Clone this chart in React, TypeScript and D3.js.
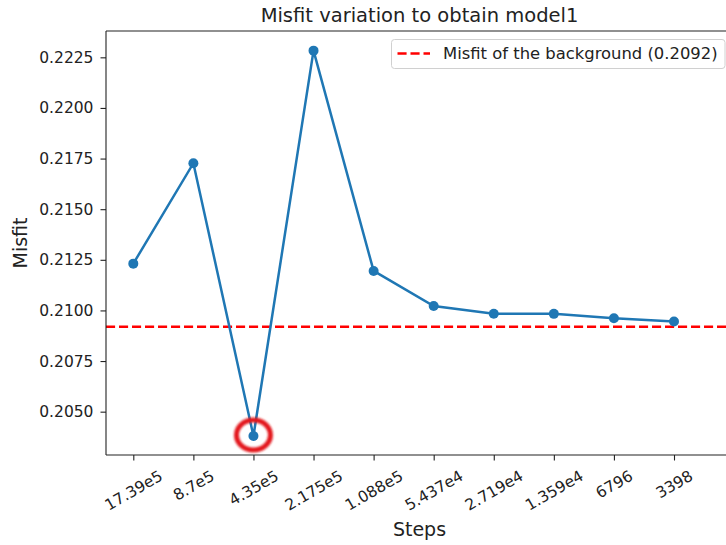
import React, { useRef, useEffect } from "react";
import { select, scalePoint, scaleLinear, axisBottom, axisLeft, line, format } from "d3";

const steps = [
  "17.39e5",
  "8.7e5",
  "4.35e5",
  "2.175e5",
  "1.088e5",
  "5.437e4",
  "2.719e4",
  "1.359e4",
  "6796",
  "3398",
];
const misfit = [
  0.21231, 0.21727, 0.2038, 0.22283, 0.21195, 0.21022, 0.20984, 0.20983,
  0.20961, 0.20945,
];
const background = 0.2092;
const yTicks = [0.205, 0.2075, 0.21, 0.2125, 0.215, 0.2175, 0.22, 0.2225];

const width = 726;
const height = 545;
const left = 106;
const right = 733;
const top = 31;
const bottom = 455;
const font = "'DejaVu Sans', sans-serif";
const blue = "#1f77b4";

const App: React.FC = () => {
  const gx = useRef<SVGGElement>(null);
  const gy = useRef<SVGGElement>(null);

  const x = scalePoint<string>().domain(steps).range([133.3, 674]);
  const y = scaleLinear().domain([0.20286, 0.2238]).range([bottom, top]);

  const path = line<number>()
    .x((_, i) => x(steps[i]) as number)
    .y((d) => y(d));

  const minIdx = misfit.indexOf(Math.min(...misfit));

  useEffect(() => {
    if (gy.current) {
      const g = select(gy.current);
      g.call(
        axisLeft(y)
          .tickValues(yTicks)
          .tickFormat(format(".4f"))
          .tickSize(5.5)
          .tickPadding(7)
      );
      g.select(".domain").remove();
      g.selectAll("line").attr("stroke", "#222").attr("stroke-width", 1.1);
      g.selectAll("text")
        .attr("font-family", font)
        .attr("font-size", 15.5)
        .attr("fill", "#222");
    }
    if (gx.current) {
      const g = select(gx.current);
      g.call(axisBottom(x).tickSize(5.5).tickPadding(0));
      g.select(".domain").remove();
      g.selectAll("line").attr("stroke", "#222").attr("stroke-width", 1.1);
      // matplotlib-style rotated labels: bbox centred on the tick
      g.selectAll<SVGTextElement, string>("text").each(function () {
        const t = select(this)
          .attr("font-family", font)
          .attr("font-size", 15.5)
          .attr("fill", "#222")
          .attr("text-anchor", "middle")
          .attr("dy", "0.32em");
        const w = this.getComputedTextLength();
        const h = 18;
        const cy = 12 + (w * 0.5 + h * 0.866) / 2;
        t.attr("y", cy).attr("transform", `rotate(-30, 0, ${cy})`);
      });
    }
  }, []);

  const cx = x(steps[minIdx]) as number;
  const cyMin = y(misfit[minIdx]);

  return (
    <svg
      width={width}
      height={height}
      style={{ position: "absolute", left: 0, top: 0, background: "#fff" }}
    >
      <defs>
        <filter id="soft" x="-50%" y="-50%" width="200%" height="200%">
          <feGaussianBlur stdDeviation={0.9} />
        </filter>
        <clipPath id="plot">
          <rect x={left} y={top} width={right - left} height={bottom - top} />
        </clipPath>
      </defs>
      <rect width={width} height={height} fill="#fff" />

      <g clipPath="url(#plot)">
        <line
          x1={left}
          x2={right}
          y1={y(background)}
          y2={y(background)}
          stroke="red"
          strokeWidth={2.5}
          strokeDasharray="9.1 3.9"
        />
        <path d={path(misfit) || ""} fill="none" stroke={blue} strokeWidth={2.5} />
        {misfit.map((d, i) => (
          <circle key={i} cx={x(steps[i])} cy={y(d)} r={5} fill={blue} />
        ))}
      </g>

      <ellipse
        cx={cx}
        cy={cyMin - 1}
        rx={17}
        ry={15}
        fill="none"
        stroke="#e3191c"
        strokeWidth={5}
        filter="url(#soft)"
      />

      {/* spines */}
      <g stroke="#222" strokeWidth={1.1} fill="none">
        <line x1={left} x2={left} y1={top} y2={bottom} />
        <line x1={left} x2={right} y1={top} y2={top} />
        <line x1={left} x2={right} y1={bottom} y2={bottom} />
        <line x1={right} x2={right} y1={top} y2={bottom} />
      </g>

      <g ref={gy} transform={`translate(${left},0)`} />
      <g ref={gx} transform={`translate(0,${bottom})`} />

      {/* legend */}
      <rect
        x={391.5}
        y={39.5}
        width={333.5}
        height={29}
        rx={3}
        fill="#fff"
        fillOpacity={0.8}
        stroke="#d0d0d0"
      />
      <line
        x1={397.5}
        x2={430}
        y1={53.5}
        y2={53.5}
        stroke="red"
        strokeWidth={2.5}
        strokeDasharray="9.1 3.9"
      />
      <text
        x={443}
        y={53.5}
        dy="0.35em"
        fontFamily={font}
        fontSize={16.4}
        fill="#222"
      >
        Misfit of the background (0.2092)
      </text>

      <text
        x={(left + right) / 2}
        y={21.5}
        textAnchor="middle"
        fontFamily={font}
        fontSize={19.5}
        fill="#222"
      >
        Misfit variation to obtain model1
      </text>
      <text
        x={(left + right) / 2}
        y={535.5}
        textAnchor="middle"
        fontFamily={font}
        fontSize={19}
        fill="#222"
      >
        Steps
      </text>
      <text
        transform={`translate(27,${(top + bottom) / 2}) rotate(-90)`}
        textAnchor="middle"
        fontFamily={font}
        fontSize={19}
        fill="#222"
      >
        Misfit
      </text>
    </svg>
  );
};

export default App;
